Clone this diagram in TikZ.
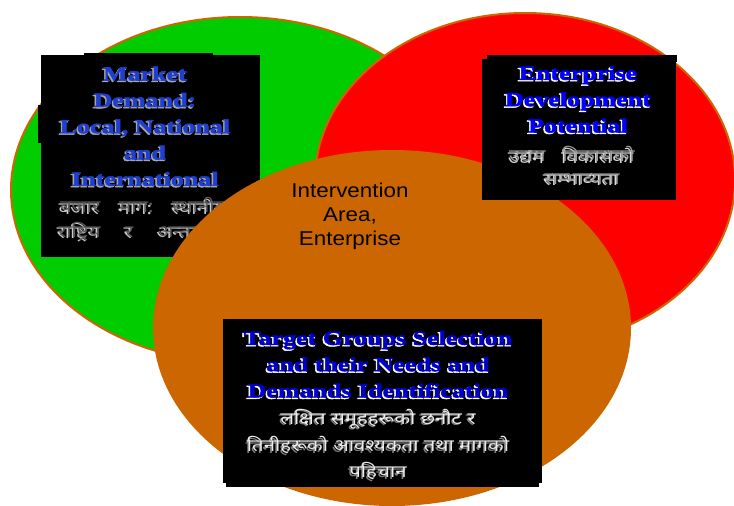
\documentclass[tikz,border=0pt]{standalone}
\usepackage{fontspec}
\usetikzlibrary{shapes.geometric}
\newfontfamily\enfont[FakeStretch=1.3,FakeBold=2.5]{Liberation Serif}
\newfontfamily\dvfont[Script=Devanagari,FakeStretch=1.2]{Noto Sans}
\newfontfamily\arfont[FakeStretch=1.12]{Liberation Sans}
\definecolor{vgreen}{HTML}{00CC00}
\definecolor{vred}{HTML}{FF0000}
\definecolor{vorange}{HTML}{CC6600}
\definecolor{mblue}{HTML}{1F3FD0}
\definecolor{eblue}{HTML}{0000FF}
\definecolor{tblue}{HTML}{0000CC}
\definecolor{dgray}{HTML}{5E5E5E}
\newcommand\emb[3]{\makebox[0pt][l]{\kern-1.4pt\raisebox{-1.4pt}{\textcolor{#2}{#3}}}\textcolor{#1}{#3}}
\tikzset{
  circ/.style={ellipse, inner sep=0pt, line width=2pt},
  blackbox/.style={fill=black, draw=none},
  entitle/.style={align=center, inner sep=0pt, font=\enfont\bfseries\fontsize{20pt}{26.3pt}\selectfont},
  dvline/.style={inner sep=0pt, font=\dvfont\fontsize{17pt}{20pt}\selectfont},
}
\begin{document}
\begin{tikzpicture}[x=1pt,y=-1pt]
\useasboundingbox (0,0) rectangle (734,506);
\clip (0,0) rectangle (734,506);
% circles
\node[circ, fill=vgreen, draw=vorange, minimum width=458pt, minimum height=346pt] (green) at (240,190) {};
\node[circ, fill=vred, draw=vorange, minimum width=420pt, minimum height=334pt] (red) at (525,180) {};
% market box
\fill[blackbox] (84,53) rectangle (213,60);
\fill[blackbox] (38,105) rectangle (46,143);
\fill[blackbox] (41,55) rectangle (260,257);
\node[entitle] (market) at (145,127) {\emb{mblue}{gray!70}{Market}\\\emb{mblue}{gray!70}{Demand:}\\\emb{mblue}{gray!70}{Local, National}\\\emb{mblue}{gray!70}{and}\\\emb{mblue}{gray!70}{International}};
\node[dvline] (marketdv1) at (146,207) {\makebox[172pt][s]{\emb{dgray}{gray!40}{बजार}\hfill\emb{dgray}{gray!40}{माग:}\hfill\emb{dgray}{gray!40}{स्थानीय,}}};
\node[dvline] (marketdv2) at (146,232) {\makebox[176pt][s]{\emb{dgray}{gray!40}{राष्ट्रिय}\hfill\emb{dgray}{gray!40}{र}\hfill\emb{dgray}{gray!40}{अन्तर्राष्ट्रिय}}};
% orange circle
\node[circ, fill=vorange, draw=none, minimum width=478pt, minimum height=356pt] (orange) at (392,328) {};
% enterprise box
\fill[blackbox] (487,55) rectangle (677,62);
\fill[blackbox] (482,59) rectangle (676,200);
\node[entitle] (enterprise) at (578,100) {\emb{eblue}{white}{Enterprise}\\\emb{eblue}{white}{Development}\\\emb{eblue}{white}{Potential}};
\node[dvline] (entdv1) at (572,155) {\emb{gray!75}{gray!30}{उद्यम\quad विकासको}};
\node[dvline] (entdv2) at (582,180) {\emb{gray!75}{gray!30}{सम्भाव्यता}};
% target box
\fill[blackbox] (226,322) rectangle (539,487);
\fill[blackbox] (223,319) rectangle (542,483);
\node[entitle] (target) at (378,365) {\emb{tblue}{white}{Target Groups Selection}\\\emb{tblue}{white}{and their Needs and}\\\emb{tblue}{white}{Demands Identification}};
\node[dvline] (tgtdv1) at (378,420) {\emb{white!85!gray}{gray}{लक्षित समूहहरूको छनौट र}};
\node[dvline] (tgtdv2) at (378,446) {\emb{white!85!gray}{gray}{तिनीहरूको आवश्यकता तथा मागको}};
\node[dvline] (tgtdv3) at (378,472) {\emb{white!85!gray}{gray}{पहिचान}};
% intervention
\node[align=center, inner sep=0pt, font=\arfont\fontsize{20pt}{24pt}\selectfont] (interv) at (350,216) {Intervention\\Area,\\Enterprise};
\end{tikzpicture}
\end{document}
